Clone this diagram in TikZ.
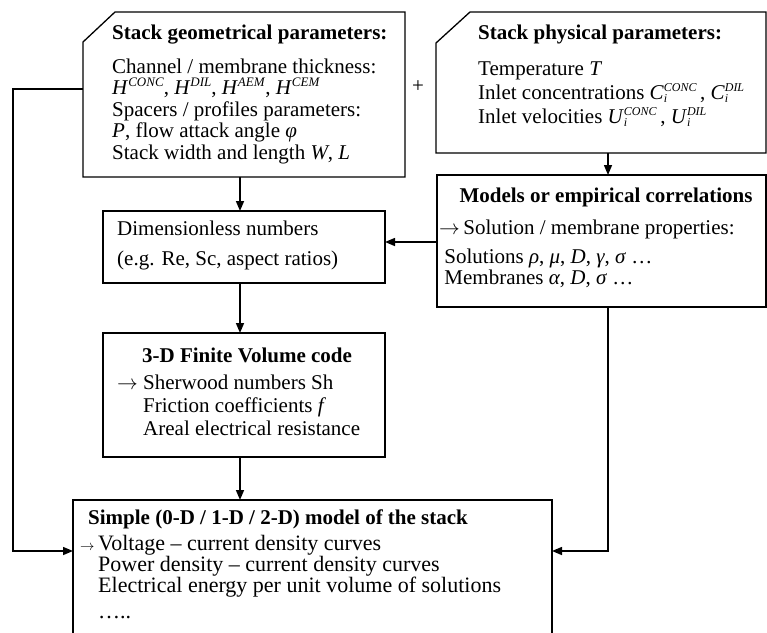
\documentclass[tikz,border=0pt]{standalone}
\usepackage{fontspec}
\setmainfont{Liberation Serif}
\usetikzlibrary{arrows.meta,positioning,calc}

% quantity with superscript, and with subscript i as well
\newcommand{\qsup}[2]{\textit{#1}\raisebox{8pt}{\fontsize{13}{13}\selectfont\textit{#2}}}
\newcommand{\qsub}[2]{\textit{#1}\rlap{\raisebox{-3.5pt}{\fontsize{12}{12}\selectfont\textit{i}}}%
  \raisebox{8pt}{\fontsize{12}{12}\selectfont\textit{#2}}}

\begin{document}
\begin{tikzpicture}[x=1pt, y=-1pt,
      font=\fontsize{21}{21.5}\selectfont,
      bx/.style={draw, line width=1.3pt, inner sep=0pt, outer sep=0pt},
      cbx/.style={inner sep=0pt, outer sep=0pt},
      tx/.style={inner sep=0pt, align=left, anchor=base west},
      ar/.style={-{Triangle[length=10pt, width=8pt]}, line width=1.5pt}]

    \useasboundingbox (0,0) rectangle (767,632);
    \clip (0,0) rectangle (767,632);

    % Entradas (esquina cortada)
    \node[cbx, minimum width=322pt, minimum height=165pt] (geo) at (244,94.5) {};
    \draw[line width=1.3pt] ([yshift=-30pt]geo.north west) -- ([xshift=32pt]geo.north west)
      -- (geo.north east) -- (geo.south east) -- (geo.south west) -- cycle;
    \node[tx] (geotitle) at (112,39) {\textbf{Stack geometrical parameters:}};
    \node[tx] (geotext) at (112,159)
      {Channel / membrane thickness:\\
       \qsup{H}{CONC}, \qsup{H}{DIL}, \qsup{H}{AEM}, \qsup{H}{CEM}\\
       Spacers / profiles parameters:\\
       \textit{P}, flow attack angle \textit{φ}\\
       Stack width and length \textit{W}, \textit{L}};

    \node (plus) at (418,87) {+};

    \node[cbx, minimum width=330pt, minimum height=141pt] (phys) at (601,82.5) {};
    \draw[line width=1.3pt] ([yshift=-31pt]phys.north west) -- ([xshift=34pt]phys.north west)
      -- (phys.north east) -- (phys.south east) -- (phys.south west) -- cycle;
    \node[tx] (phystitle) at (478,39) {\textbf{Stack physical parameters:}};
    \node[tx] (phystext) at (478,123)
      {Temperature \textit{T}\\[2.5pt]
       Inlet concentrations \qsub{C}{CONC}\,,\ \qsub{C}{DIL}\\[2.5pt]
       Inlet velocities \qsub{U}{CONC}\,, \qsub{U}{DIL}};

    % Cajas intermedias
    \node[bx, minimum width=329pt, minimum height=132pt] (models) at (601.5,241) {};
    \node[tx, anchor=base] (modtitle) at (606,202) {\textbf{Models or empirical correlations}};
    \node[tx] (modtext) at (439,284)
      {$\rightarrow$\,Solution / membrane properties:\\[8pt]
       \ Solutions \textit{ρ}, \textit{μ}, \textit{D}, \textit{γ}, \textit{σ} …\\[-1pt]
       \ Membranes \textit{α}, \textit{D}, \textit{σ} …};

    \node[bx, minimum width=282pt, minimum height=72pt] (dimless) at (244,247) {};
    \node[tx] (dimtext) at (117,265.5)
      {Dimensionless numbers\\[9pt]
       (e.g. Re, Sc, aspect ratios)};

    \node[bx, minimum width=282pt, minimum height=124pt] (fv) at (244,395) {};
    \node[tx, anchor=base] (fvtitle) at (247,362) {\textbf{3-D Finite Volume code}};
    \node[tx] (fvtext) at (143,435)
      {\llap{$\rightarrow$\ }Sherwood numbers Sh\\[1.5pt]
       Friction coefficients \textit{f}\\[1.5pt]
       Areal electrical resistance};

    % Salida
    \node[bx, minimum width=479pt, minimum height=200pt] (simple) at (312.5,600) {};
    \node[tx] (simtitle) at (88,524) {\textbf{Simple (0-D / 1-D / 2-D) model of the stack}};
    \node[tx, font=\fontsize{22}{19}\selectfont] (simtext) at (98,618.5)
      {\llap{{\fontsize{14}{14}\selectfont$\rightarrow$}\,}Voltage – current density curves\\
       Power density – current density curves\\
       Electrical energy per unit volume of solutions\\[7pt]
       …..};

    % Flechas
    \coordinate (spine) at (240,0);
    \coordinate (rspine) at (608,0);
    \coordinate (lwire) at (13,551);
    \coordinate (rwire) at (608,551);
    \draw[ar] (geo.south -| spine) -- (dimless.north -| spine);
    \draw[ar] (dimless.south -| spine) -- (fv.north -| spine);
    \draw[ar] (fv.south -| spine) -- (simple.north -| spine);
    \draw[ar] (phys.south -| rspine) -- (models.north -| rspine);
    \draw[ar] (models.west |- 0,242) -- (dimless.east |- 0,242);
    \draw[ar] (geo.west |- 0,89) -| (lwire) -- (lwire -| simple.west);
    \draw[ar] (models.south -| rwire) -- (rwire) -- (rwire -| simple.east);
  \end{tikzpicture}
\end{document}
